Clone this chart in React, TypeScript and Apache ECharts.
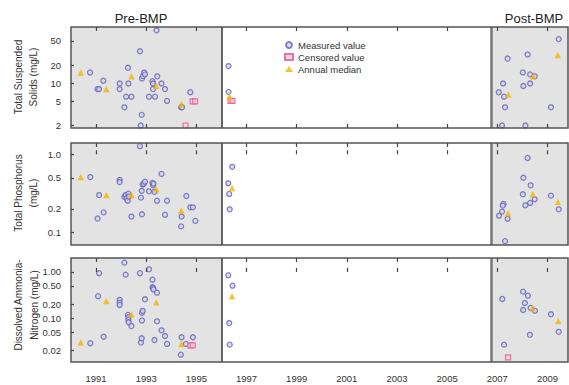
import React, { useEffect, useRef } from "react";
import * as echarts from "echarts";

// ---------- data ----------
const years = [1991, 1993, 1995, 1997, 1999, 2001, 2003, 2005, 2007, 2009];
const X_MIN = 1990;
const X_MAX = 2009.82;
const PRE_END = 1996;
const POST_START = 2006.75;

const tssTicks = [2, 5, 10, 20, 50];
const tssTickLabels = ["2", "5", "10", "20", "50"];
const tpTicks = [0.1, 0.2, 0.5, 1.0];
const tpTickLabels = ["0.1", "0.2", "0.5", "1.0"];
const nh3Ticks = [0.02, 0.05, 0.1, 0.2, 0.5, 1.0];
const nh3TickLabels = ["0.02", "0.05", "0.10", "0.20", "0.50", "1.00"];

const tssRange = [1.82, 85];
const tpRange = [0.0687, 1.395];
const nh3Range = [0.0114, 2.0];

const tssMeasured = [
  [1990.76, 15.1], [1991.06, 8.0], [1991.12, 8.0], [1991.29, 11.0], [1991.94, 9.9],
  [1991.94, 8.0], [1992.13, 4.0], [1992.2, 6.0], [1992.27, 18.0], [1992.29, 9.9],
  [1992.41, 6.0], [1992.75, 33.8], [1992.82, 3.0], [1992.78, 2.0], [1992.83, 12.0],
  [1992.87, 13.1], [1992.92, 15.0], [1992.95, 14.0], [1993.11, 6.0], [1993.25, 10.8],
  [1993.27, 9.9], [1993.27, 8.0], [1993.35, 6.0], [1993.41, 75], [1993.44, 13.0],
  [1993.61, 9.9], [1993.75, 8.0], [1993.83, 5.1], [1994.39, 4.0], [1994.43, 4.0],
  [1994.76, 7.1],
  [1996.28, 19.2], [1996.28, 7.2],
  [2009.45, 53.6], [2008.21, 29.9], [2007.41, 25.6], [2008.02, 15.1], [2008.31, 14.0],
  [2008.49, 13.0], [2007.23, 9.9], [2008.31, 9.9], [2008.04, 9.0], [2007.06, 7.1],
  [2007.27, 6.0], [2007.31, 4.0], [2009.14, 4.0], [2007.19, 2.0], [2008.12, 2.0],
];
const tssCensored = [[1994.57, 2.0], [1994.85, 5.0], [1994.95, 5.0], [1996.36, 5.1], [1996.44, 5.1]];
const tssMedian = [
  [1990.39, 15.1], [1991.41, 8.0], [1992.41, 13.1], [1993.4, 9.1], [1994.4, 4.5],
  [1996.32, 6.1], [2007.44, 6.5], [2008.43, 13.1], [2009.41, 29.2],
];

const tpMeasured = [
  [1990.77, 0.51], [1991.12, 0.3], [1991.06, 0.15], [1991.3, 0.18], [1991.94, 0.47],
  [1991.94, 0.44], [1992.13, 0.286], [1992.18, 0.3], [1992.21, 0.273], [1992.26, 0.254],
  [1992.29, 0.313], [1992.31, 0.286], [1992.41, 0.159], [1992.75, 1.27], [1992.79, 0.278],
  [1992.83, 0.17], [1992.82, 0.34], [1992.86, 0.41], [1992.9, 0.42], [1992.95, 0.445],
  [1993.11, 0.335], [1993.25, 0.43], [1993.27, 0.4], [1993.29, 0.42], [1993.33, 0.33],
  [1993.43, 0.254], [1993.61, 0.56], [1993.75, 0.168], [1993.83, 0.254], [1994.39, 0.119],
  [1994.41, 0.159], [1994.6, 0.292], [1994.76, 0.209], [1994.86, 0.209], [1994.96, 0.14],
  [1996.43, 0.69], [1996.27, 0.425], [1996.31, 0.31], [1996.33, 0.197],
  [2008.21, 0.897], [2008.04, 0.5], [2008.33, 0.4], [2008.02, 0.307], [2009.14, 0.295],
  [2008.49, 0.265], [2008.31, 0.238], [2008.12, 0.222], [2007.25, 0.231], [2007.22, 0.22],
  [2007.19, 0.184], [2007.07, 0.163], [2007.41, 0.149], [2009.45, 0.197], [2007.31, 0.077],
];
const tpCensored: number[][] = [];
const tpMedian = [
  [1990.39, 0.51], [1991.41, 0.3], [1992.41, 0.3], [1993.4, 0.36], [1994.4, 0.19],
  [1996.42, 0.37], [2007.43, 0.175], [2008.42, 0.31], [2009.42, 0.247],
];

const nh3Measured = [
  [1990.77, 0.029], [1991.12, 0.94], [1991.08, 0.3], [1991.3, 0.04], [1991.94, 0.25],
  [1991.94, 0.217], [1991.94, 0.194], [1992.13, 1.59], [1992.18, 0.875], [1992.27, 0.118],
  [1992.29, 0.105], [1992.29, 0.092], [1992.3, 0.082], [1992.41, 0.068], [1992.75, 0.94],
  [1992.79, 0.03], [1992.82, 0.037], [1992.83, 0.132], [1992.86, 0.145], [1992.83, 0.09],
  [1992.95, 0.257], [1993.11, 1.14], [1993.25, 0.68], [1993.25, 0.47], [1993.27, 0.45],
  [1993.29, 0.42], [1993.33, 0.034], [1993.43, 0.357], [1993.43, 0.086], [1993.61, 0.055],
  [1993.75, 0.0415], [1993.83, 0.028], [1994.38, 0.0164], [1994.41, 0.039], [1994.58, 0.028],
  [1994.86, 0.039],
  [1996.27, 0.85], [1996.44, 0.506], [1996.31, 0.079], [1996.33, 0.027],
  [2007.2, 0.261], [2008.03, 0.376], [2008.22, 0.308], [2008.1, 0.214], [2008.03, 0.151],
  [2008.33, 0.167], [2008.5, 0.146], [2009.14, 0.122], [2009.45, 0.051], [2008.3, 0.044],
  [2007.27, 0.027],
];
const nh3Censored = [[1994.76, 0.026], [1994.85, 0.026], [2007.43, 0.0144]];
const nh3Median = [
  [1990.39, 0.03], [1991.41, 0.236], [1992.41, 0.122], [1993.4, 0.222], [1994.4, 0.028],
  [1996.42, 0.3], [2008.41, 0.164], [2009.43, 0.0875],
];

// ---------- styling ----------
const FONT = "Liberation Sans, Arial, sans-serif";
const GRIDS = [
  { left: 71, top: 27, width: 497, height: 101 },
  { left: 71, top: 143, width: 497, height: 102 },
  { left: 71, top: 258, width: 497, height: 104 },
];

const panels = [
  { range: tssRange, ticks: tssTicks, labels: tssTickLabels, measured: tssMeasured, censored: tssCensored, median: tssMedian },
  { range: tpRange, ticks: tpTicks, labels: tpTickLabels, measured: tpMeasured, censored: tpCensored, median: tpMedian },
  { range: nh3Range, ticks: nh3Ticks, labels: nh3TickLabels, measured: nh3Measured, censored: nh3Censored, median: nh3Median },
];

const toLog = (pts: number[][]) => pts.map(([x, y]) => [x, Math.log10(y)]);

function buildOption() {
  const grid: any[] = [];
  const xAxis: any[] = [];
  const yAxis: any[] = [];
  const series: any[] = [];

  panels.forEach((p, i) => {
    grid.push({
      ...GRIDS[i],
      show: true,
      z: 10,
      backgroundColor: "transparent",
      borderColor: "#555",
      borderWidth: 1.5,
    });
    const logTicks = p.ticks.map((t) => Math.log10(t));
    const xBase = {
      type: "value",
      gridIndex: i,
      min: X_MIN,
      max: X_MAX,
      z: 10,
      splitLine: { show: false },
      axisLine: { show: false },
      axisTick: { show: true, inside: true, length: 4, customValues: years, lineStyle: { color: "#444", width: 1.2 } },
    };
    xAxis.push({
      ...xBase,
      position: "bottom",
      axisLabel: {
        show: i === 2,
        customValues: years,
        formatter: (v: number) => String(Math.round(v)),
        fontSize: 9.5,
        fontFamily: FONT,
        color: "#333",
        margin: 11,
      },
    });
    xAxis.push({
      ...xBase,
      position: "top",
      axisLabel: { show: false, customValues: years },
    });
    yAxis.push({
      type: "value",
      gridIndex: i,
      min: Math.log10(p.range[0]),
      max: Math.log10(p.range[1]),
      z: 10,
      splitLine: { show: false },
      axisLine: { show: false },
      axisTick: { show: true, inside: true, length: 3, customValues: logTicks, lineStyle: { color: "#444", width: 1.2 } },
      axisLabel: {
        customValues: logTicks,
        formatter: (v: number) => {
          let best = 0;
          let bd = Infinity;
          logTicks.forEach((t, k) => {
            const d = Math.abs(t - v);
            if (d < bd) { bd = d; best = k; }
          });
          return p.labels[best];
        },
        fontSize: 9.5,
        fontFamily: FONT,
        color: "#333",
        margin: 10,
      },
    });

    // shading + divider lines
    series.push({
      type: "line",
      xAxisIndex: i * 2,
      yAxisIndex: i,
      data: [[X_MIN, Math.log10(p.range[0])]],
      showSymbol: false,
      symbol: "none",
      lineStyle: { opacity: 0 },
      silent: true,
      z: 1,
      markArea: {
        silent: true,
        itemStyle: { color: "#e3e3e3" },
        data: [
          [{ xAxis: X_MIN }, { xAxis: PRE_END }],
          [{ xAxis: POST_START }, { xAxis: X_MAX }],
        ],
      },
      markLine: {
        silent: true,
        symbol: ["none", "none"],
        label: { show: false },
        data: [
          { xAxis: PRE_END, lineStyle: { color: "#333", width: 1.5, type: "solid" } },
          { xAxis: POST_START, lineStyle: { color: "#777", width: 2.5, type: "solid" } },
        ],
      },
    });

    series.push({
      name: "Measured value",
      type: "scatter",
      xAxisIndex: i * 2,
      yAxisIndex: i,
      z: 3,
      symbol: "circle",
      symbolSize: 5,
      itemStyle: { color: "#d4d4f0", borderColor: "#6464b8", borderWidth: 1.3 },
      data: toLog(p.measured),
    });
    series.push({
      name: "Censored value",
      type: "scatter",
      xAxisIndex: i * 2,
      yAxisIndex: i,
      z: 4,
      symbol: "rect",
      symbolSize: 5,
      itemStyle: { color: "#f8d0de", borderColor: "#e05690", borderWidth: 1.2 },
      data: toLog(p.censored),
    });
    series.push({
      name: "Annual median",
      type: "scatter",
      xAxisIndex: i * 2,
      yAxisIndex: i,
      z: 5,
      symbol: "triangle",
      symbolSize: 6.5,
      itemStyle: { color: "#f5b400" },
      data: toLog(p.median),
    });
  });

  const graphic: any[] = [
    { type: "text", x: 141, y: 18, style: { text: "Pre-BMP", fontSize: 13, fontFamily: FONT, fill: "#222", align: "center", verticalAlign: "middle" } },
    { type: "text", x: 534, y: 18, style: { text: "Post-BMP", fontSize: 13, fontFamily: FONT, fill: "#222", align: "center", verticalAlign: "middle" } },
    { type: "text", x: 25.5, y: 77, rotation: Math.PI / 2, style: { text: "Total Suspended\nSolids (mg/L)", fontSize: 10, lineHeight: 15, fontFamily: FONT, fill: "#333", align: "center", verticalAlign: "middle" } },
    { type: "text", x: 25.5, y: 193, rotation: Math.PI / 2, style: { text: "Total Phosphorus\n(mg/L)", fontSize: 10, lineHeight: 15, fontFamily: FONT, fill: "#333", align: "center", verticalAlign: "middle" } },
    { type: "text", x: 26, y: 305, rotation: Math.PI / 2, style: { text: "Dissolved Ammonia-\nNitrogen (mg/L)", fontSize: 10, lineHeight: 16, fontFamily: FONT, fill: "#333", align: "center", verticalAlign: "middle" } },
  ];

  return {
    animation: false,
    backgroundColor: "#fff",
    grid,
    xAxis,
    yAxis,
    series,
    graphic,
    legend: {
      data: ["Measured value", "Censored value", "Annual median"],
      orient: "vertical",
      left: 284,
      top: 40,
      padding: 0,
      itemWidth: 8,
      itemHeight: 6,
      itemGap: 2,
      textStyle: { fontSize: 9.5, fontFamily: FONT, color: "#333" },
    },
  };
}

export default function App() {
  const ref = useRef<HTMLDivElement>(null);
  useEffect(() => {
    if (!ref.current) return;
    const chart = echarts.init(ref.current, undefined, { renderer: "svg" });
    chart.setOption(buildOption() as any);
    return () => chart.dispose();
  }, []);
  return <div ref={ref} style={{ width: 569, height: 385, position: "absolute", left: 0, top: 0 }} />;
}
